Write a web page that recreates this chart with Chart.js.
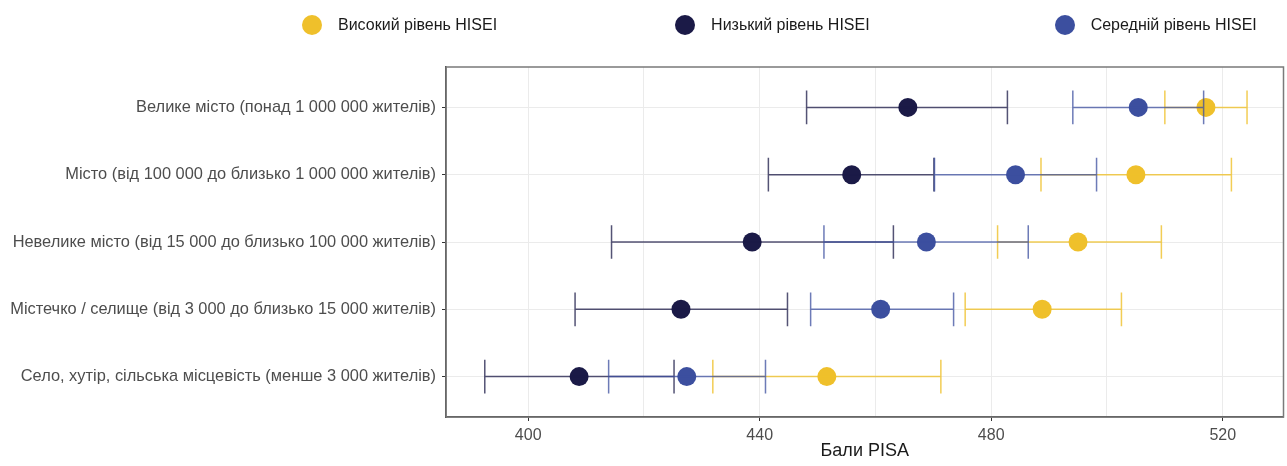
<!DOCTYPE html>
<html lang="uk">
<head>
<meta charset="utf-8">
<title>Бали PISA за типом населеного пункту та рівнем HISEI</title>
<script src="https://cdn.jsdelivr.net/npm/chart.js@4.4.1/dist/chart.umd.min.js"></script>
<style>
  html, body { margin: 0; padding: 0; background: #fff; }
  #wrap { position: relative; width: 1287px; height: 466px; }
  #legend {
    position: absolute; left: 302px; top: 15px;
    display: flex; gap: 178px; align-items: center;
    font-family: "Liberation Sans", Arial, sans-serif; font-size: 16px; color: #1a1a1a;
  }
  #legend .item:last-child { margin-left: 7px; }
  .item { display: flex; align-items: center; }
  .dot { width: 20px; height: 20px; border-radius: 50%; margin-right: 16px; }
</style>
</head>
<body>
<div id="wrap">
  <canvas id="pisaChart" width="1287" height="466"></canvas>
  <div id="legend"></div>
</div>
<script>
// Дані: типи населених пунктів (зверху вниз)
const categories = [
    'Велике місто (понад 1 000 000 жителів)',
    'Місто (від 100 000 до близько 1 000 000 жителів)',
    'Невелике місто (від 15 000 до близько 100 000 жителів)',
    'Містечко / селище (від 3 000 до близько 15 000 жителів)',
    'Село, хутір, сільська місцевість (менше 3 000 жителів)'
];

// Високий рівень HISEI
const highMean = [517.1, 505.0, 495.0, 488.8, 451.6];
const highLow  = [510.0, 488.6, 481.1, 475.5, 431.9];
const highUp   = [524.2, 521.5, 509.4, 502.5, 471.3];

// Низький рівень HISEI
const lowMean = [465.6, 455.9, 438.7, 426.4, 408.8];
const lowLow  = [448.1, 441.5, 414.4, 408.1, 392.5];
const lowUp   = [482.8, 470.1, 463.1, 444.8, 425.2];

// Середній рівень HISEI
const midMean = [505.4, 484.2, 468.8, 460.9, 427.4];
const midLow  = [494.1, 470.2, 451.1, 448.8, 413.9];
const midUp   = [516.7, 498.2, 486.4, 473.5, 441.0];

const xTicks = [400, 420, 440, 460, 480, 500, 520];
const xLabelled = [400, 440, 480, 520];
const seriesNames = ['Високий рівень HISEI', 'Низький рівень HISEI', 'Середній рівень HISEI'];

const colors = {
    high: { dot: '#EFC02B', bar: 'rgba(239, 192, 43, 0.8)' },
    low:  { dot: '#1B1A47', bar: 'rgba(27, 26, 71, 0.75)' },
    mid:  { dot: '#3C4F9F', bar: 'rgba(60, 79, 159, 0.75)' }
};

function points(vals) {
    return vals.map((v, i) => ({ x: v, y: i }));
}

// Планки похибок малюються через шкали самого графіка
const errorBars = {
    id: 'errorBars',
    afterDatasetsDraw(chart) {
        const { ctx, scales: { x, y } } = chart;
        ctx.save();
        ctx.lineWidth = 1.5;
        chart.data.datasets.forEach(ds => {
            ctx.strokeStyle = ds.barColor;
            ds.errLow.forEach((lo, i) => {
                const x1 = x.getPixelForValue(lo);
                const x2 = x.getPixelForValue(ds.errUp[i]);
                const yc = y.getPixelForValue(i);
                const yt = y.getPixelForValue(i - 0.25);
                const yb = y.getPixelForValue(i + 0.25);
                ctx.beginPath();
                ctx.moveTo(x1, yc); ctx.lineTo(x2, yc);
                ctx.moveTo(x1, yt); ctx.lineTo(x1, yb);
                ctx.moveTo(x2, yt); ctx.lineTo(x2, yb);
                ctx.stroke();
            });
        });
        ctx.restore();
    }
};

// Рамка панелі
const panelBorder = {
    id: 'panelBorder',
    beforeDatasetsDraw(chart) {
        const { ctx, chartArea: a } = chart;
        ctx.save();
        ctx.strokeStyle = '#7a7a7a';
        ctx.lineWidth = 1.5;
        ctx.strokeRect(a.left, a.top, a.right - a.left, a.bottom - a.top);
        ctx.restore();
    }
};

const ctx = document.getElementById('pisaChart').getContext('2d');
const myChart = new Chart(ctx, {
    type: 'scatter',
    data: {
        datasets: [
            { label: seriesNames[0], data: points(highMean), errLow: highLow, errUp: highUp,
              backgroundColor: colors.high.dot, barColor: colors.high.bar },
            { label: seriesNames[1], data: points(lowMean), errLow: lowLow, errUp: lowUp,
              backgroundColor: colors.low.dot, barColor: colors.low.bar },
            { label: seriesNames[2], data: points(midMean), errLow: midLow, errUp: midUp,
              backgroundColor: colors.mid.dot, barColor: colors.mid.bar }
        ]
    },
    options: {
        responsive: false,
        animation: false,
        layout: { autoPadding: false, padding: { top: 67, right: 3.5, left: 0, bottom: 0 } },
        elements: { point: { radius: 9.5, hoverRadius: 9.5, borderWidth: 0 } },
        plugins: { legend: { display: false }, tooltip: { enabled: false } },
        scales: {
            x: {
                type: 'linear',
                min: 385.8,
                max: 530.5,
                afterBuildTicks: s => { s.ticks = xTicks.map(v => ({ value: v })); },
                afterFit: s => { s.height = 49; },
                ticks: {
                    padding: 5,
                    color: '#4d4d4d',
                    font: { family: '"Liberation Sans", Arial', size: 16 },
                    callback: v => xLabelled.includes(v) ? String(v) : ''
                },
                grid: {
                    color: '#ebebeb',
                    lineWidth: 1,
                    tickLength: 4,
                    tickColor: c => (c.tick && xLabelled.includes(c.tick.value)) ? '#333' : 'rgba(0,0,0,0)'
                },
                border: { display: true, color: '#333', width: 1.5 },
                title: {
                    display: true,
                    text: 'Бали PISA',
                    color: '#1a1a1a',
                    font: { family: '"Liberation Sans", Arial', size: 18 },
                    padding: { top: 0, bottom: 4 }
                }
            },
            y: {
                type: 'linear',
                reverse: true,
                min: -0.6,
                max: 4.6,
                afterBuildTicks: s => { s.ticks = categories.map((c, i) => ({ value: i })); },
                afterFit: s => { s.width = 446; },
                ticks: {
                    padding: 6,
                    color: '#4d4d4d',
                    font: { family: '"Liberation Sans", Arial', size: 16.4 },
                    callback: v => categories[v]
                },
                grid: { color: '#ebebeb', lineWidth: 1, tickLength: 4, tickColor: '#333' },
                border: { display: true, color: '#333', width: 1.5 }
            }
        }
    },
    plugins: [panelBorder, errorBars]
});

// Легенда
const legend = document.getElementById('legend');
myChart.data.datasets.forEach(ds => {
    const item = document.createElement('div');
    item.className = 'item';
    item.innerHTML = `<span class="dot" style="background:${ds.backgroundColor}"></span><span>${ds.label}</span>`;
    legend.appendChild(item);
});
</script>
</body>
</html>
